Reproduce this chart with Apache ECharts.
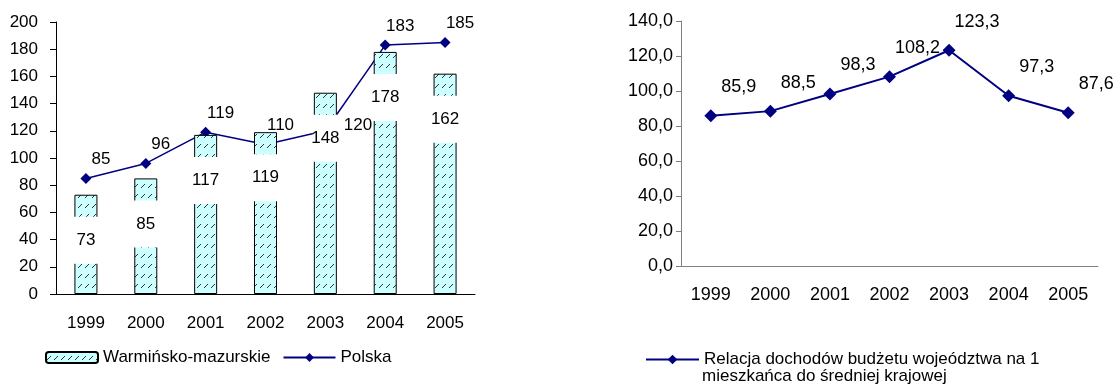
<!DOCTYPE html>
<html>
<head>
<meta charset="utf-8">
<script src="https://cdn.jsdelivr.net/npm/echarts@6/dist/echarts.min.js"></script>
<style>
  html, body { margin: 0; padding: 0; background: #fff; }
  #chart { width: 1114px; height: 385px; }
</style>
</head>
<body>
<div id="chart"></div>
<script>
// data
var years = ['1999', '2000', '2001', '2002', '2003', '2004', '2005'];
var warminskoMazurskie = [73, 85, 117, 119, 148, 178, 162];
var polska = [85, 96, 119, 110, 120, 183, 185];
var relacja = [85.9, 88.5, 98.3, 108.2, 123.3, 97.3, 87.6];
var leftAxisRange = [0, 200, 20];
var rightAxisRange = [0, 140, 20];
var relacjaName = 'Relacja dochodów budżetu wojeództwa na 1 mieszkańca do średniej krajowej';

var FONT = '"Liberation Sans", Arial, sans-serif';

// hatch fill like the old excel pattern
function hatch() {
    var c = document.createElement('canvas');
    c.width = 7; c.height = 10;
    var ctx = c.getContext('2d');
    ctx.fillStyle = '#ccffff';
    ctx.fillRect(0, 0, 7, 10);
    ctx.fillStyle = '#333';
    // dotted slash
    ctx.fillRect(1, 7, 1, 1);
    ctx.fillRect(2, 6, 1, 1);
    ctx.fillRect(3, 5, 1, 1);
    ctx.fillRect(4, 4, 1, 1);
    return c;
}
var pattern = { image: hatch(), repeat: 'repeat' };

// 2003 label of Polska sits to the right of the point in the original
var polskaData = polska.map(function (v, i) {
    return i === 4 ? { value: v, label: { position: 'right', offset: [8, -5] } } : v;
});

var chart = echarts.init(document.getElementById('chart'));

chart.setOption({
    animation: false,
    textStyle: { fontFamily: FONT },
    grid: [
        { left: 56, top: 22, width: 419, height: 272 },
        { left: 681, top: 21, width: 417, height: 245 }
    ],
    xAxis: [
        {
            gridIndex: 0, type: 'category', data: years,
            axisLine: { lineStyle: { color: '#000', width: 1 } },
            axisTick: { length: 6, lineStyle: { color: '#000' } },
            axisLabel: { color: '#000', fontSize: 17, margin: 21, fontFamily: FONT }
        },
        {
            gridIndex: 1, type: 'category', data: years,
            axisLine: { lineStyle: { color: '#808080', width: 1 } },
            axisTick: { length: 5, lineStyle: { color: '#808080' } },
            axisLabel: { color: '#000', fontSize: 18, margin: 20, fontFamily: FONT }
        }
    ],
    yAxis: [
        {
            gridIndex: 0, type: 'value',
            min: leftAxisRange[0], max: leftAxisRange[1], interval: leftAxisRange[2],
            splitLine: { show: false },
            axisLine: { show: true, lineStyle: { color: '#000', width: 1 } },
            axisTick: { show: true, length: 6, lineStyle: { color: '#000' } },
            axisLabel: { color: '#000', fontSize: 17, margin: 18, fontFamily: FONT }
        },
        {
            gridIndex: 1, type: 'value',
            min: rightAxisRange[0], max: rightAxisRange[1], interval: rightAxisRange[2],
            splitLine: { show: false },
            axisLine: { show: true, lineStyle: { color: '#808080', width: 1 } },
            axisTick: { show: true, length: 5, lineStyle: { color: '#808080' } },
            axisLabel: {
                color: '#000', fontSize: 18, margin: 8, fontFamily: FONT,
                formatter: function (v) { return v.toFixed(1).replace('.', ','); }
            }
        }
    ],
    legend: [
        {
            data: ['Warmińsko-mazurskie', 'Polska'],
            left: 40, top: 344,
            itemWidth: 52, itemHeight: 11, itemGap: 12,
            textStyle: { color: '#000', fontSize: 17, fontFamily: FONT }
        },
        {
            data: [relacjaName],
            left: 640, top: 346,
            itemWidth: 53, itemHeight: 12,
            formatter: function () { return 'Relacja dochodów budżetu wojeództwa na 1'; },
            textStyle: { color: '#000', fontSize: 17, fontFamily: FONT }
        }
    ],
    graphic: [
        {
            type: 'text', left: 702, top: 368,
            style: { text: 'mieszkańca do średniej krajowej', fill: '#000', font: '17px ' + FONT }
        }
    ],
    series: [
        {
            name: 'Warmińsko-mazurskie', type: 'bar',
            xAxisIndex: 0, yAxisIndex: 0,
            data: warminskoMazurskie,
            barWidth: 23,
            itemStyle: { color: pattern, borderColor: '#000', borderWidth: 1 },
            label: {
                show: true, position: 'insideTop', distance: 22,
                color: '#000', fontSize: 17, fontFamily: FONT,
                width: 25, align: 'center',
                backgroundColor: '#fff', padding: [15, 0]
            },
            z: 2
        },
        {
            name: 'Polska', type: 'line',
            xAxisIndex: 0, yAxisIndex: 0,
            data: polskaData,
            symbol: 'diamond', symbolSize: 11,
            lineStyle: { color: '#000080', width: 1.5 },
            itemStyle: { color: '#000080' },
            label: {
                show: true, position: 'top', offset: [15, 0],
                color: '#000', fontSize: 17, fontFamily: FONT
            },
            z: 1
        },
        {
            name: relacjaName, type: 'line',
            xAxisIndex: 1, yAxisIndex: 1,
            data: relacja,
            symbol: 'diamond', symbolSize: 13,
            lineStyle: { color: '#000080', width: 2 },
            itemStyle: { color: '#000080' },
            label: {
                show: true, position: 'top', offset: [28, -8],
                color: '#000', fontSize: 18, fontFamily: FONT,
                formatter: function (p) { return p.value.toFixed(1).replace('.', ','); }
            }
        }
    ]
});
</script>
</body>
</html>
